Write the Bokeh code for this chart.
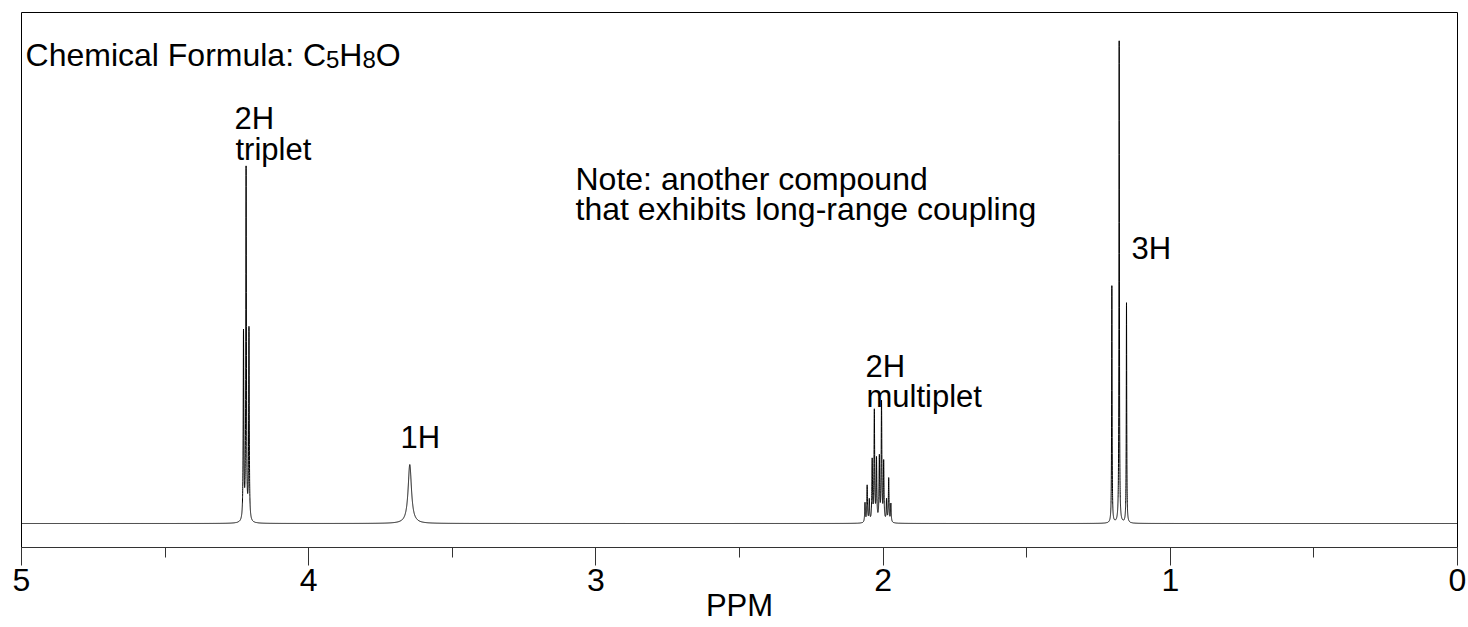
import numpy as np
from bokeh.plotting import figure
from bokeh.models import Range1d, Label, FixedTicker
from bokeh.embed import file_html
from bokeh.resources import INLINE

# ---------------- data ----------------
# 2H triplet (O-CH2, long-range coupled)
triplet_ppm = [4.227, 4.218, 4.208]
triplet_int = [0.385, 0.722, 0.393]
# 1H broad singlet
oh_ppm = [3.648]
oh_int = [0.121]
# 2H multiplet
multiplet_ppm = [2.063, 2.0555, 2.048, 2.038, 2.0305, 2.023,
                 2.013, 2.0055, 1.998, 1.988, 1.9805, 1.973]
multiplet_int = [0.040, 0.075, 0.045, 0.125, 0.226, 0.126,
                 0.130, 0.244, 0.121, 0.045, 0.090, 0.038]
# 3H triplet
ch3_ppm = [1.2035, 1.178, 1.1525]
ch3_int = [0.487, 0.990, 0.452]

# half widths (ppm) of each group's lines
group_hwhm = [0.0012, 0.007, 0.0013, 0.0009]

major_ticks = [0, 1, 2, 3, 4, 5]
minor_ticks = [0.5, 1.5, 2.5, 3.5, 4.5]
x_label = "PPM"

# ---------------- spectrum ----------------
groups = [(triplet_ppm, triplet_int), (oh_ppm, oh_int),
          (multiplet_ppm, multiplet_int), (ch3_ppm, ch3_int)]
grid = [np.linspace(0, 5, 5001)]
for (pp, _), w in zip(groups, group_hwhm):
    for c in pp:
        grid.append(c + np.linspace(-0.03, 0.03, 601))
        grid.append(np.array([c]))
x = np.unique(np.clip(np.concatenate(grid), 0, 5))
y = np.zeros_like(x)
for (pp, ii), w in zip(groups, group_hwhm):
    for c, h in zip(pp, ii):
        y += h * w * w / ((x - c) ** 2 + w * w)

FONT = "Liberation Sans"

p = figure(width=1468, height=627,
           x_range=Range1d(5, 0), y_range=Range1d(-0.0493, 1.0493),
           output_backend="svg", toolbar_location=None,
           min_border_left=21, min_border_right=11, min_border_top=12,
           min_border_bottom=80, y_axis_location=None)
p.background_fill_color = "white"
p.border_fill_color = "white"
p.outline_line_color = "black"
p.outline_line_width = 1
p.xgrid.visible = False
p.ygrid.visible = False

p.line(x, y, line_color="black", line_width=1)

ax = p.xaxis[0]
ax.ticker = FixedTicker(ticks=major_ticks, minor_ticks=minor_ticks)
ax.axis_line_color = "#333333"
ax.major_tick_line_color = "#333333"
ax.minor_tick_line_color = "#333333"
ax.major_tick_out = 18
ax.major_tick_in = 0
ax.minor_tick_out = 10
ax.minor_tick_in = 0
ax.major_label_text_font = FONT
ax.major_label_text_font_size = "32px"
ax.major_label_text_color = "black"
ax.major_label_standoff = 3
ax.axis_label = x_label
ax.axis_label_text_font = FONT
ax.axis_label_text_font_size = "31px"
ax.axis_label_text_font_style = "normal"
ax.axis_label_text_color = "black"
ax.axis_label_standoff = -6

def lab(px, py, text, size="31px", align="left", xoff=0):
    # px, py given in data units
    p.add_layout(Label(x=px, y=py, text=text, text_font=FONT,
                       text_font_size=size, text_color="black",
                       text_align=align, text_baseline="alphabetic",
                       x_offset=xoff))

# chemical formula, with subscripts
fx, fy, fy_sub = 4.986, 0.963, 0.9525
pieces = [("Chemical Formula: C", "32px", fy, 9.390 * 32),
          ("5", "24px", fy_sub, 0.556 * 24),
          ("H", "32px", fy, 0.722 * 32),
          ("8", "24px", fy_sub, 0.556 * 24),
          ("O", "32px", fy, 0.778 * 32)]
off = 0
for t, s, yy, w in pieces:
    lab(fx, yy, t, size=s, xoff=off)
    off += w

lab(4.258, 0.831, "2H")
lab(4.255, 0.769, "triplet")
lab(3.071, 0.708, "Note: another compound", size="32px")
lab(3.071, 0.646, "that exhibits long-range coupling", size="32px")
lab(1.135, 0.565, "3H")
lab(3.680, 0.177, "1H")
lab(2.061, 0.322, "2H")
lab(2.058, 0.261, "multiplet")

open("out.html", "w").write(file_html(p, INLINE))
